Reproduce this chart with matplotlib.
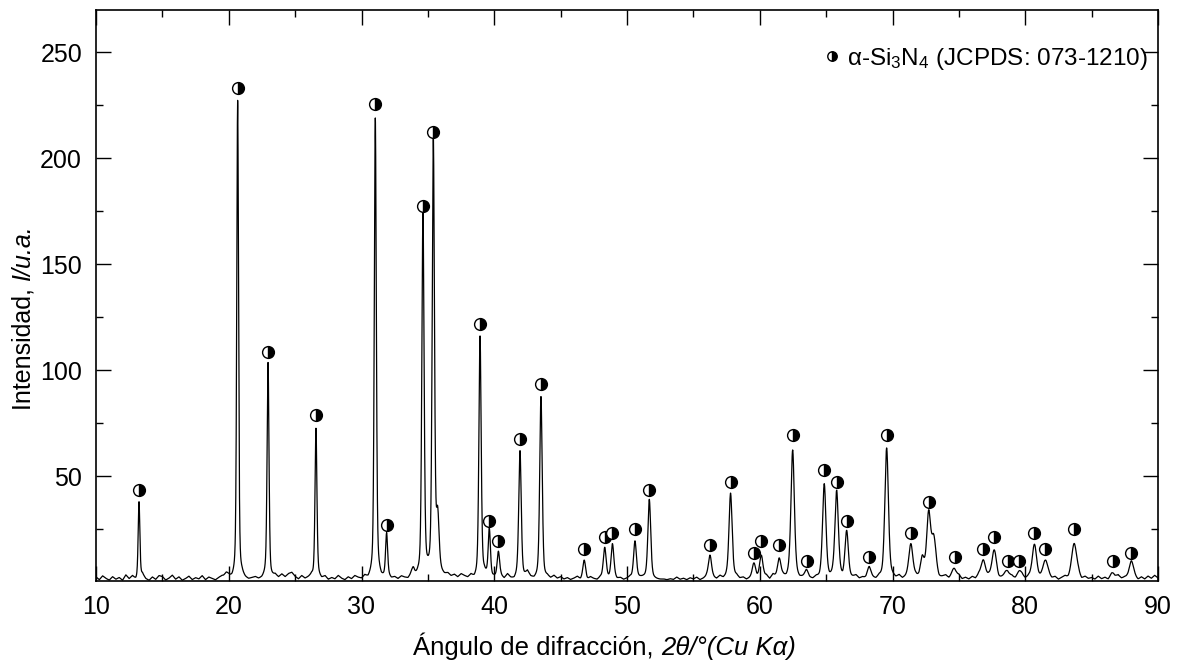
import numpy as np
import matplotlib
matplotlib.use("Agg")
import matplotlib.pyplot as plt
from matplotlib.ticker import MultipleLocator

plt.rcParams['font.family'] = ['Liberation Sans', 'DejaVu Sans']
plt.rcParams['mathtext.fontset'] = 'custom'
plt.rcParams['mathtext.rm'] = 'Liberation Sans'
plt.rcParams['mathtext.it'] = 'Liberation Sans:italic'
plt.rcParams['mathtext.bf'] = 'Liberation Sans:bold'

# ---- data ----
# reflection positions (2theta, deg), heights above baseline, FWHM (deg)
peak_pos = [13.24, 20.67, 22.96, 26.57, 31.04, 31.89, 34.63, 35.41, 35.74, 38.93,
            39.63, 40.31, 41.94, 43.52, 46.78, 48.32, 48.90, 50.60, 51.68, 56.25,
            57.80, 59.57, 60.12, 61.47, 62.48, 63.53, 64.86, 65.79, 66.55, 68.23,
            69.56, 71.39, 72.24, 72.72, 73.10, 74.65, 76.84, 77.65, 78.67, 79.55,
            80.68, 81.51, 83.69, 86.63, 87.99, 19.80, 33.90]
peak_height = [36.0, 226.0, 102.0, 71.0, 217.0, 20.0, 170.5, 205.0, 26.0, 114.0,
               22.5, 12.5, 60.0, 85.0, 8.5, 14.6, 15.9, 17.8, 37.0, 11.4,
               40.6, 6.5, 10.6, 9.6, 60.6, 2.6, 43.6, 40.8, 21.4, 4.4,
               60.6, 15.4, 8.0, 29.0, 18.0, 4.4, 8.7, 12.8, 3.0, 3.0,
               15.4, 8.7, 16.5, 2.2, 7.6, 2.5, 3.5]
peak_fwhm = [0.15, 0.16, 0.17, 0.17, 0.18, 0.18, 0.20, 0.20, 0.25, 0.20,
             0.20, 0.22, 0.22, 0.22, 0.25, 0.25, 0.25, 0.25, 0.25, 0.28,
             0.28, 0.30, 0.30, 0.30, 0.30, 0.30, 0.30, 0.30, 0.30, 0.35,
             0.32, 0.35, 0.35, 0.35, 0.40, 0.40, 0.40, 0.40, 0.40, 0.40,
             0.40, 0.40, 0.45, 0.45, 0.45, 0.30, 0.25]

# background level every 0.25 deg from 10 to 90
bg_start, bg_step = 10.0, 0.25
background = [
    2.5, 1.2, 3.0, 1.8, 1.0, 2.6, 1.4, 2.2, 0.9, 3.4, 1.6, 2.9, 1.1, 2.0, 3.6, 1.5, 0.8, 2.4, 1.3, 3.1,
    2.7, 1.0, 1.9, 3.3, 1.4, 2.5, 0.9, 1.7, 2.8, 1.2, 2.1, 1.5, 3.0, 1.1, 2.3, 1.6, 0.9, 2.0, 2.6, 1.3,
    2.2, 1.1, 1.8, 1.0, 2.4, 1.3, 0.9, 1.6, 2.1, 1.2, 1.5, 2.8, 1.3, 2.0, 3.2, 2.1, 3.6, 2.4, 3.9, 4.5,
    2.6, 1.4, 2.9, 1.6, 2.2, 3.1, 1.2, 2.5, 1.5, 2.7, 1.1, 2.0, 1.4, 3.0, 1.7, 1.0, 2.3, 1.4, 2.8, 1.9,
    1.3, 2.5, 1.0, 2.2, 1.6, 3.0, 1.2, 1.8, 2.6, 1.3, 2.0, 1.1, 2.4, 1.7, 1.2, 2.9, 1.5, 2.2, 1.3, 2.6,
    3.0, 2.4, 3.3, 2.2, 3.0, 2.5, 3.4, 2.3, 3.1, 2.0, 3.5, 2.6, 1.8, 2.9, 1.2, 2.1, 1.7, 3.5, 2.2, 1.4,
    2.1, 1.2, 2.5, 1.4, 3.4, 1.6, 1.0, 2.6, 1.5, 2.2, 4.5, 2.0, 1.1, 1.8, 2.5, 1.3, 2.2, 1.5, 2.8, 1.6,
    2.4, 1.3, 2.0, 1.1, 1.7, 2.6, 1.2, 1.9, 1.0, 2.3, 1.5, 1.0, 2.2, 1.4, 1.8, 1.1, 2.5, 1.3, 1.9, 1.0,
    1.6, 2.4, 1.2, 1.8, 2.0, 2.1, 1.9, 2.0, 1.4, 1.2, 1.1, 1.3, 1.0, 1.5, 1.2, 2.3, 1.3, 1.8, 1.1, 2.0,
    1.4, 2.2, 1.0, 1.6, 2.5, 1.2, 1.9, 1.3, 2.7, 1.5, 2.1, 1.2, 1.8, 2.6, 1.4, 2.0, 1.0, 1.7, 2.4, 1.3,
    2.0, 1.5, 2.8, 1.2, 3.3, 1.9, 1.1, 2.4, 1.6, 3.0, 1.4, 2.2, 1.2, 1.9, 2.7, 1.5, 1.1, 2.1, 1.4, 2.6,
    1.8, 1.2, 2.3, 1.5, 2.9, 1.1, 2.4, 1.3, 1.9, 2.8, 1.4, 2.0, 1.2, 2.5, 1.6, 1.0, 2.2, 1.5, 2.9, 1.3,
    2.1, 1.4, 2.6, 1.2, 2.0, 3.0, 1.5, 2.3, 1.1, 2.7, 1.6, 2.1, 1.3, 2.5, 1.0, 1.9, 2.8, 1.4, 2.2, 1.6,
    2.9, 1.3, 2.0, 1.2, 2.4, 1.5, 3.1, 1.7, 1.1, 2.3, 1.4, 2.6, 1.2, 2.1, 3.0, 1.5, 2.5, 1.3, 1.9, 2.7,
    1.4, 2.2, 1.1, 2.6, 1.5, 2.0, 1.2, 2.8, 1.6, 2.3, 1.0, 1.9, 2.5, 1.3, 2.1, 1.6, 2.9, 1.2, 2.4, 1.5,
    2.0, 1.3, 2.7, 1.5, 2.2, 1.1, 2.6, 1.4, 3.0, 1.7, 2.1, 1.2, 2.5, 1.6, 1.0, 2.3, 1.4, 2.8, 1.8, 3.2,
    2.0]

# marker positions (reference pattern alpha-Si3N4)
marker_x = [13.24, 20.67, 22.96, 26.57, 31.04, 31.89, 34.63, 35.41, 38.93, 39.63,
            40.31, 41.94, 43.52, 46.78, 48.32, 48.90, 50.60, 51.68, 56.25, 57.80,
            59.57, 60.12, 61.47, 62.48, 63.53, 64.86, 65.79, 66.55, 68.23, 69.56,
            71.39, 72.72, 74.71, 76.84, 77.65, 78.67, 79.55, 80.68, 81.51, 83.69,
            86.63, 87.99]
marker_y = [43.4, 233.1, 108.8, 79.1, 225.8, 27.0, 177.3, 212.6, 121.8, 28.9,
            19.5, 67.8, 93.6, 15.8, 21.4, 23.3, 24.9, 43.7, 17.7, 47.3,
            13.8, 19.3, 17.6, 69.6, 10.0, 52.8, 47.3, 28.8, 12.1, 69.6,
            23.1, 38.0, 12.1, 15.9, 21.4, 10.2, 10.2, 23.3, 15.9, 25.1,
            10.2, 14.0]

xlim = (10, 90)
ylim = (0.6, 270)
xticks = [10, 20, 30, 40, 50, 60, 70, 80, 90]
yticks = [50, 100, 150, 200, 250]

legend_label = 'α-Si$_3$N$_4$ (JCPDS: 073-1210)'
xlabel_parts = ('Ángulo de difracción, ', '2θ/°(Cu Kα)')
ylabel_parts = ('Intensidad, ', 'I/u.a.')

# ---- build the pattern from the listed reflections ----
tt = np.arange(10.0, 90.0001, 0.01)
bg_x = bg_start + bg_step * np.arange(len(background))
intensity = np.interp(tt, bg_x, background)
for p, h, w in zip(peak_pos, peak_height, peak_fwhm):
    g = np.exp(-4 * np.log(2) * ((tt - p) / w) ** 2)
    l = 1.0 / (1.0 + 4 * ((tt - p) / w) ** 2)
    intensity += h * (0.6 * g + 0.4 * l)

W, H = 1181, 661
fig = plt.figure(figsize=(W / 100, H / 100), dpi=100)
ax = fig.add_axes([96 / W, 1 - 581 / H, (1158 - 96) / W, (581 - 10) / H])

ax.plot(tt, intensity, color='black', lw=0.9)
ax.plot(marker_x, marker_y, linestyle='none', marker='o', markersize=8.5,
        fillstyle='right', markerfacecolor='black', markerfacecoloralt='white',
        markeredgecolor='black', markeredgewidth=1.0, label=legend_label)

ax.set_xlim(*xlim)
ax.set_ylim(*ylim)
ax.set_xticks(xticks)
ax.set_yticks(yticks)
ax.xaxis.set_minor_locator(MultipleLocator(5))
ax.yaxis.set_minor_locator(MultipleLocator(25))
ax.tick_params(which='both', direction='in', top=True, right=True, width=1.0,
               labelsize=18, colors='black')
ax.tick_params(which='major', length=11, pad=10)
ax.tick_params(which='minor', length=5)
for s in ax.spines.values():
    s.set_linewidth(1.2)

# legend
ax.legend(loc='center left', bbox_to_anchor=(825 / W, 1 - 59 / H),
          bbox_transform=fig.transFigure, frameon=False, fontsize=17.5,
          handlelength=0.6, handletextpad=0.3, borderaxespad=0, borderpad=0,
          markerscale=0.8)

# axis labels: regular part followed by italic part
fs_lab = 18.5
tx1 = fig.text(413 / W, 1 - 655 / H, xlabel_parts[0], fontsize=fs_lab,
               ha='left', va='baseline')
ty1 = fig.text(30 / W, 1 - 410 / H, ylabel_parts[0], fontsize=18,
               rotation=90, rotation_mode='anchor', ha='left', va='baseline')
fig.canvas.draw()
r = fig.canvas.get_renderer()
wx = tx1.get_window_extent(r).width
wy = ty1.get_window_extent(r).height
fig.text((413 + wx) / W, 1 - 655 / H, xlabel_parts[1], fontsize=fs_lab,
         style='italic', ha='left', va='baseline')
fig.text(30 / W, 1 - (410 - wy) / H, ylabel_parts[1], fontsize=18,
         style='italic', rotation=90, rotation_mode='anchor', ha='left', va='baseline')

fig.savefig('out.png', dpi=100)
